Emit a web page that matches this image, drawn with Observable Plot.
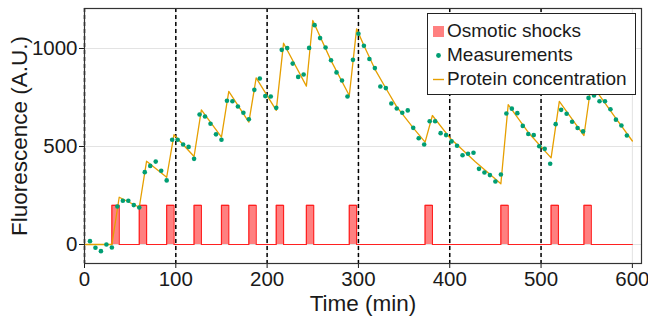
<!DOCTYPE html>
<html>
<head>
<meta charset="utf-8">
<script src="https://cdn.jsdelivr.net/npm/d3@7"></script>
<script src="https://cdn.jsdelivr.net/npm/@observablehq/plot@0.6"></script>
<style>
  body { margin: 0; background: white; }
  #wrap { position: relative; width: 648px; height: 320px; font-family: "Liberation Sans", Arial, sans-serif; color: #1a1a1a; }
  #legend { position: absolute; left: 427px; top: 13px; width: 207px; height: 80px; border: 1px solid #222; background: white; font-size: 19px; }
  .row { position: absolute; left: 0; height: 24px; line-height: 24px; white-space: nowrap; }
  .row span.t { position: absolute; left: 19px; top: 0; }
  .sym { position: absolute; left: 4px; top: 6px; }
</style>
</head>
<body>
<div id="wrap">
  <div id="chart"></div>
  <div id="legend">
    <div class="row" style="top:5px"><svg class="sym" width="13" height="13"><rect x="1" y="1" width="11" height="11" fill="#ff8080"></rect></svg><span class="t">Osmotic shocks</span></div>
    <div class="row" style="top:29px"><svg class="sym" width="13" height="13"><circle cx="6.5" cy="6.5" r="2.4" fill="#009E73"></circle></svg><span class="t">Measurements</span></div>
    <div class="row" style="top:53px"><svg class="sym" width="13" height="13"><line x1="1" x2="12" y1="6.5" y2="6.5" stroke="#E69F00" stroke-width="1.4"></line></svg><span class="t">Protein concentration</span></div>
  </div>
</div>
<script>
// Osmotic shocks
const shockStart = [30, 60, 90, 120, 150, 180, 210, 243, 290, 373, 456, 511, 547];
const shockDuration = 8;
const shockLevel = 200;
const shockEnd = 600;

// Measurements
const measTime = [6,12,18,24,30,36,42,48,54,60,66,72,78,84,90,96,102,108,114,120,
  126,132,138,144,150,156,162,168,174,180,186,192,198,204,210,216,222,228,234,240,
  246,252,258,264,270,276,282,288,294,300,306,312,318,324,330,336,342,348,354,360,
  366,372,378,384,390,396,402,408,414,420,426,432,438,444,450,456,462,468,474,480,
  486,492,498,504,510,516,522,528,534,540,546,552,558,564,570,576,582,588,594];
const measValue = [17,-17,-34,0,-15,194,223,223,201,189,369,401,423,376,327,534,534,510,498,437,
  663,653,616,562,534,733,731,704,672,639,789,847,757,755,697,993,1002,923,855,867,
  1003,1119,1053,1005,940,878,837,755,942,1075,1014,946,900,806,798,719,694,672,684,595,
  542,510,629,629,568,558,526,504,455,463,468,386,367,354,321,357,668,693,670,605,
  564,558,501,488,412,614,687,667,626,594,577,748,760,731,731,690,637,607,556];

// Protein concentration (model)
const protTime = [0,30,38,60,68,90,98,120,128,150,158,180,188,210,218,243,250,270,290,298,306,318,330,342,360,373,381,401,428,456,464,487,511,520,547,555,580,600];
const protValue = [0,0,241,190,425,343,560,449,687,548,781,624,850,684,1027,808,1143,938,760,1100,1015,895,797,702,595,522,658,539,422,310,713,566,442,730,556,820,656,528];

// Axis ticks
const xTicks = [0, 100, 200, 300, 400, 500, 600];
const yTicks = [0, 500, 1000];
const dashedAt = [0, 100, 200, 300, 400, 500];

// Build tables
const shockSteps = [{t: 0, v: 0}];
for (const s of shockStart) {
  shockSteps.push({t: s, v: 0}, {t: s, v: shockLevel}, {t: s + shockDuration, v: shockLevel}, {t: s + shockDuration, v: 0});
}
shockSteps.push({t: shockEnd, v: 0});
const meas = measTime.map((t, i) => ({t, v: measValue[i]}));
const prot = protTime.map((t, i) => ({t, v: protValue[i]}));

const chart = Plot.plot({
  width: 648,
  height: 320,
  marginLeft: 84,
  marginRight: 7,
  marginTop: 8,
  marginBottom: 57,
  style: {fontFamily: "Liberation Sans, Arial, sans-serif", fontSize: "20.5px", background: "white", color: "#1a1a1a"},
  x: {domain: [0, 610], ticks: xTicks, tickSize: 5, tickPadding: 3, label: "Time (min)", labelAnchor: "center", labelOffset: 47, labelArrow: false, tickFormat: d => String(d)},
  y: {domain: [-97, 1204], ticks: yTicks, tickSize: 5, tickPadding: 2, label: "Fluorescence (A.U.)", labelAnchor: "center", labelOffset: 73, labelArrow: false, tickFormat: d => String(d)},
  marks: [
    Plot.ruleY(yTicks, {stroke: "#e3e3e3", strokeWidth: 1}),
    Plot.ruleX(xTicks, {stroke: "#e3e3e3", strokeWidth: 1}),
    Plot.areaY(shockSteps, {x: "t", y: "v", fill: "#ff8080"}),
    Plot.line(shockSteps, {x: "t", y: "v", stroke: "#ff2020", strokeWidth: 1.2}),
    Plot.ruleX(dashedAt, {stroke: "black", strokeWidth: 1.5, strokeDasharray: "4,3"}),
    Plot.line(prot, {x: "t", y: "v", stroke: "#E69F00", strokeWidth: 1.3}),
    Plot.dot(meas, {x: "t", y: "v", r: 2.3, fill: "#009E73", stroke: "none"}),
    Plot.frame({stroke: "#333", strokeWidth: 1.2})
  ]
});
d3.select(chart).selectAll('g[aria-label="x-axis label"], g[aria-label="y-axis label"]').attr("font-size", 22.5);
document.getElementById("chart").appendChild(chart);
</script>
</body>
</html>
